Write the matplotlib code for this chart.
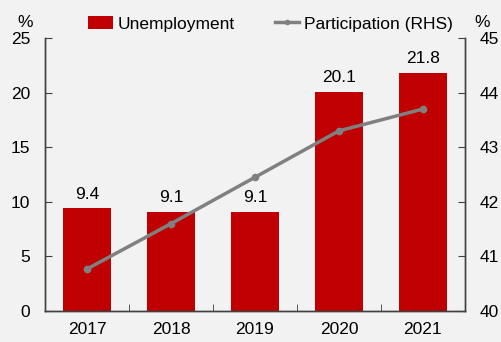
import matplotlib
matplotlib.use("Agg")
import matplotlib.pyplot as plt
from matplotlib.lines import Line2D
from matplotlib.patches import Patch

plt.rcParams['font.family'] = ['Liberation Sans', 'DejaVu Sans']

years = ["2017", "2018", "2019", "2020", "2021"]
unemployment = [9.4, 9.1, 9.1, 20.1, 21.8]
participation = [40.77, 41.6, 42.45, 43.3, 43.7]
left_ticks = [0, 5, 10, 15, 20, 25]
right_ticks = [40, 41, 42, 43, 44, 45]

bg = "#F2F2F2"
bar_color = "#C00000"
line_color = "#808080"
fs = 12.5

fig = plt.figure(figsize=(5.01, 3.42), dpi=100, facecolor=bg)
ax = fig.add_axes([0.0898, 0.0906, 0.838, 0.798], facecolor=bg)
ax2 = ax.twinx()

x = list(range(len(years)))
bars = ax.bar(x, unemployment, width=0.57, color=bar_color, zorder=2)
for xi, v in zip(x, unemployment):
    ax.text(xi, v + 0.6, f"{v:.1f}", ha="center", va="bottom", fontsize=fs, color="black")

ax2.plot(x, participation, color=line_color, lw=2.5, marker="o", ms=4.5, zorder=3)

ax.set_xlim(-0.5, len(years) - 0.5)
ax.set_ylim(0, 25)
ax2.set_ylim(40, 45)
ax.set_yticks(left_ticks)
ax2.set_yticks(right_ticks)
ax.set_xticks(x)
ax.set_xticklabels(years)
ax.set_xticks([i + 0.5 for i in x[:-1]], minor=True)

for a in (ax, ax2):
    a.spines['top'].set_visible(False)
    for s in a.spines.values():
        s.set_color("#404040")
        s.set_linewidth(1.0)

ax.tick_params(axis='y', direction='in', length=5, labelsize=fs, pad=10.5, color="#404040")
ax2.tick_params(axis='y', direction='in', length=5, labelsize=fs, pad=11, color="#404040")
ax.tick_params(axis='x', which='major', length=0, labelsize=fs, pad=8)
ax.tick_params(axis='x', which='minor', direction='in', length=5, color="#404040")
ax2.set_zorder(ax.get_zorder() + 1)
ax2.patch.set_visible(False)

fig.text(0.05, 0.935, "%", fontsize=fs, ha="center", va="center")
fig.text(0.962, 0.935, "%", fontsize=fs, ha="center", va="center")

handles = [Patch(facecolor=bar_color, edgecolor="none"),
           Line2D([0], [0], color=line_color, lw=2.5, marker="o", ms=3)]
fig.legend(handles, ["Unemployment", "Participation (RHS)"], loc="center",
           bbox_to_anchor=(0.54, 0.93), ncol=2, frameon=False, fontsize=fs,
           handlelength=1.4, handletextpad=0.25, columnspacing=2.35)

fig.savefig("out.png", dpi=100, facecolor=bg)
